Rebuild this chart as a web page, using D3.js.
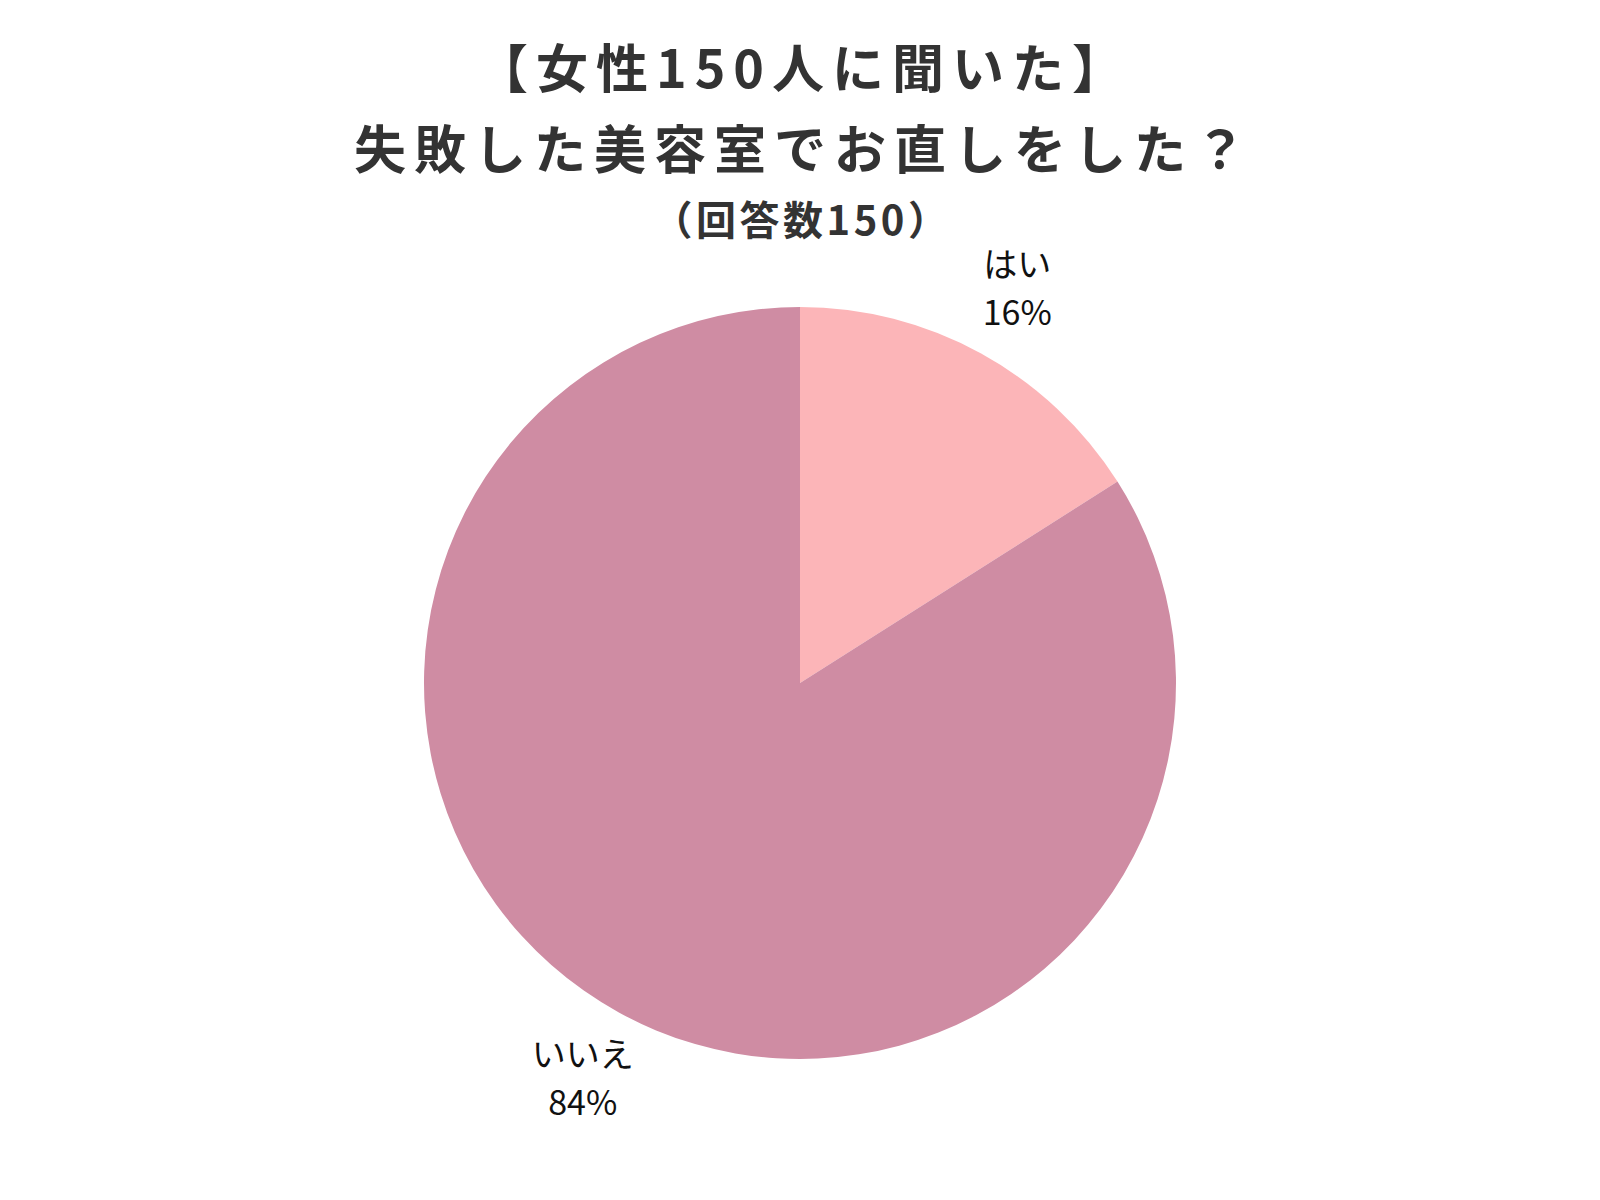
<!DOCTYPE html>
<html>
<head>
<meta charset="utf-8">
<script src="https://cdn.jsdelivr.net/npm/d3@7"></script>
<style>
  html, body { margin: 0; padding: 0; background: #fff; }
  svg { display: block; }
</style>
</head>
<body>
<svg id="chart" width="1600" height="1200"></svg>
<script>
// データ
var categories = ["はい", "いいえ"];
var values = [16, 84];
var sliceColors = ["#fcb5b8", "#cf8ca3"];
var titleLines = ["【女性150人に聞いた】", "失敗した美容室でお直しをした？"];
var subTitle = "（回答数150）";

var width = 1600, height = 1200;
var cx = 800, cy = 683, radius = 376;

var svg = d3.select("#chart");

// タイトル
svg.selectAll(".title")
  .data(titleLines)
  .enter().append("text")
  .attr("class", "title")
  .attr("x", cx + 4)
  .attr("y", function (d, i) { return 88 + i * 81; })
  .attr("text-anchor", "middle")
  .style("font-family", "'Noto Sans CJK JP', 'Noto Sans', sans-serif")
  .style("font-weight", "700")
  .style("font-size", "52px")
  .style("letter-spacing", "8px")
  .style("fill", "#333333")
  .text(function (d) { return d; });

svg.append("text")
  .attr("x", cx + 2)
  .attr("y", 235)
  .attr("text-anchor", "middle")
  .style("font-family", "'Noto Sans CJK JP', 'Noto Sans', sans-serif")
  .style("font-weight", "700")
  .style("font-size", "40px")
  .style("letter-spacing", "3.5px")
  .style("fill", "#333333")
  .text(subTitle);

// 円グラフ
var pieData = categories.map(function (c, i) {
  return { name: c, value: values[i], color: sliceColors[i] };
});

var pie = d3.pie()
  .sort(null)
  .value(function (d) { return d.value; });

var arc = d3.arc().innerRadius(0).outerRadius(radius);
var labelArc = d3.arc().innerRadius(451).outerRadius(451);

var g = svg.append("g").attr("transform", "translate(" + cx + "," + cy + ")");

var arcs = pie(pieData);

g.selectAll("path")
  .data(arcs)
  .enter().append("path")
  .attr("d", arc)
  .style("fill", function (d) { return d.data.color; });

// ラベル（名前と割合の2行）
var labels = g.selectAll(".label")
  .data(arcs)
  .enter().append("text")
  .attr("class", "label")
  .attr("text-anchor", "middle")
  .style("font-family", "'Noto Sans CJK JP', 'Noto Sans', sans-serif")
  .style("font-size", "34px")
  .style("fill", "#111111");

labels.append("tspan")
  .attr("x", function (d) { return labelArc.centroid(d)[0]; })
  .attr("y", function (d) { return labelArc.centroid(d)[1] - 11; })
  .text(function (d) { return d.data.name; });

labels.append("tspan")
  .attr("x", function (d) { return labelArc.centroid(d)[0]; })
  .attr("y", function (d) { return labelArc.centroid(d)[1] + 37; })
  .text(function (d) { return d.data.value + "%"; });
</script>
</body>
</html>
